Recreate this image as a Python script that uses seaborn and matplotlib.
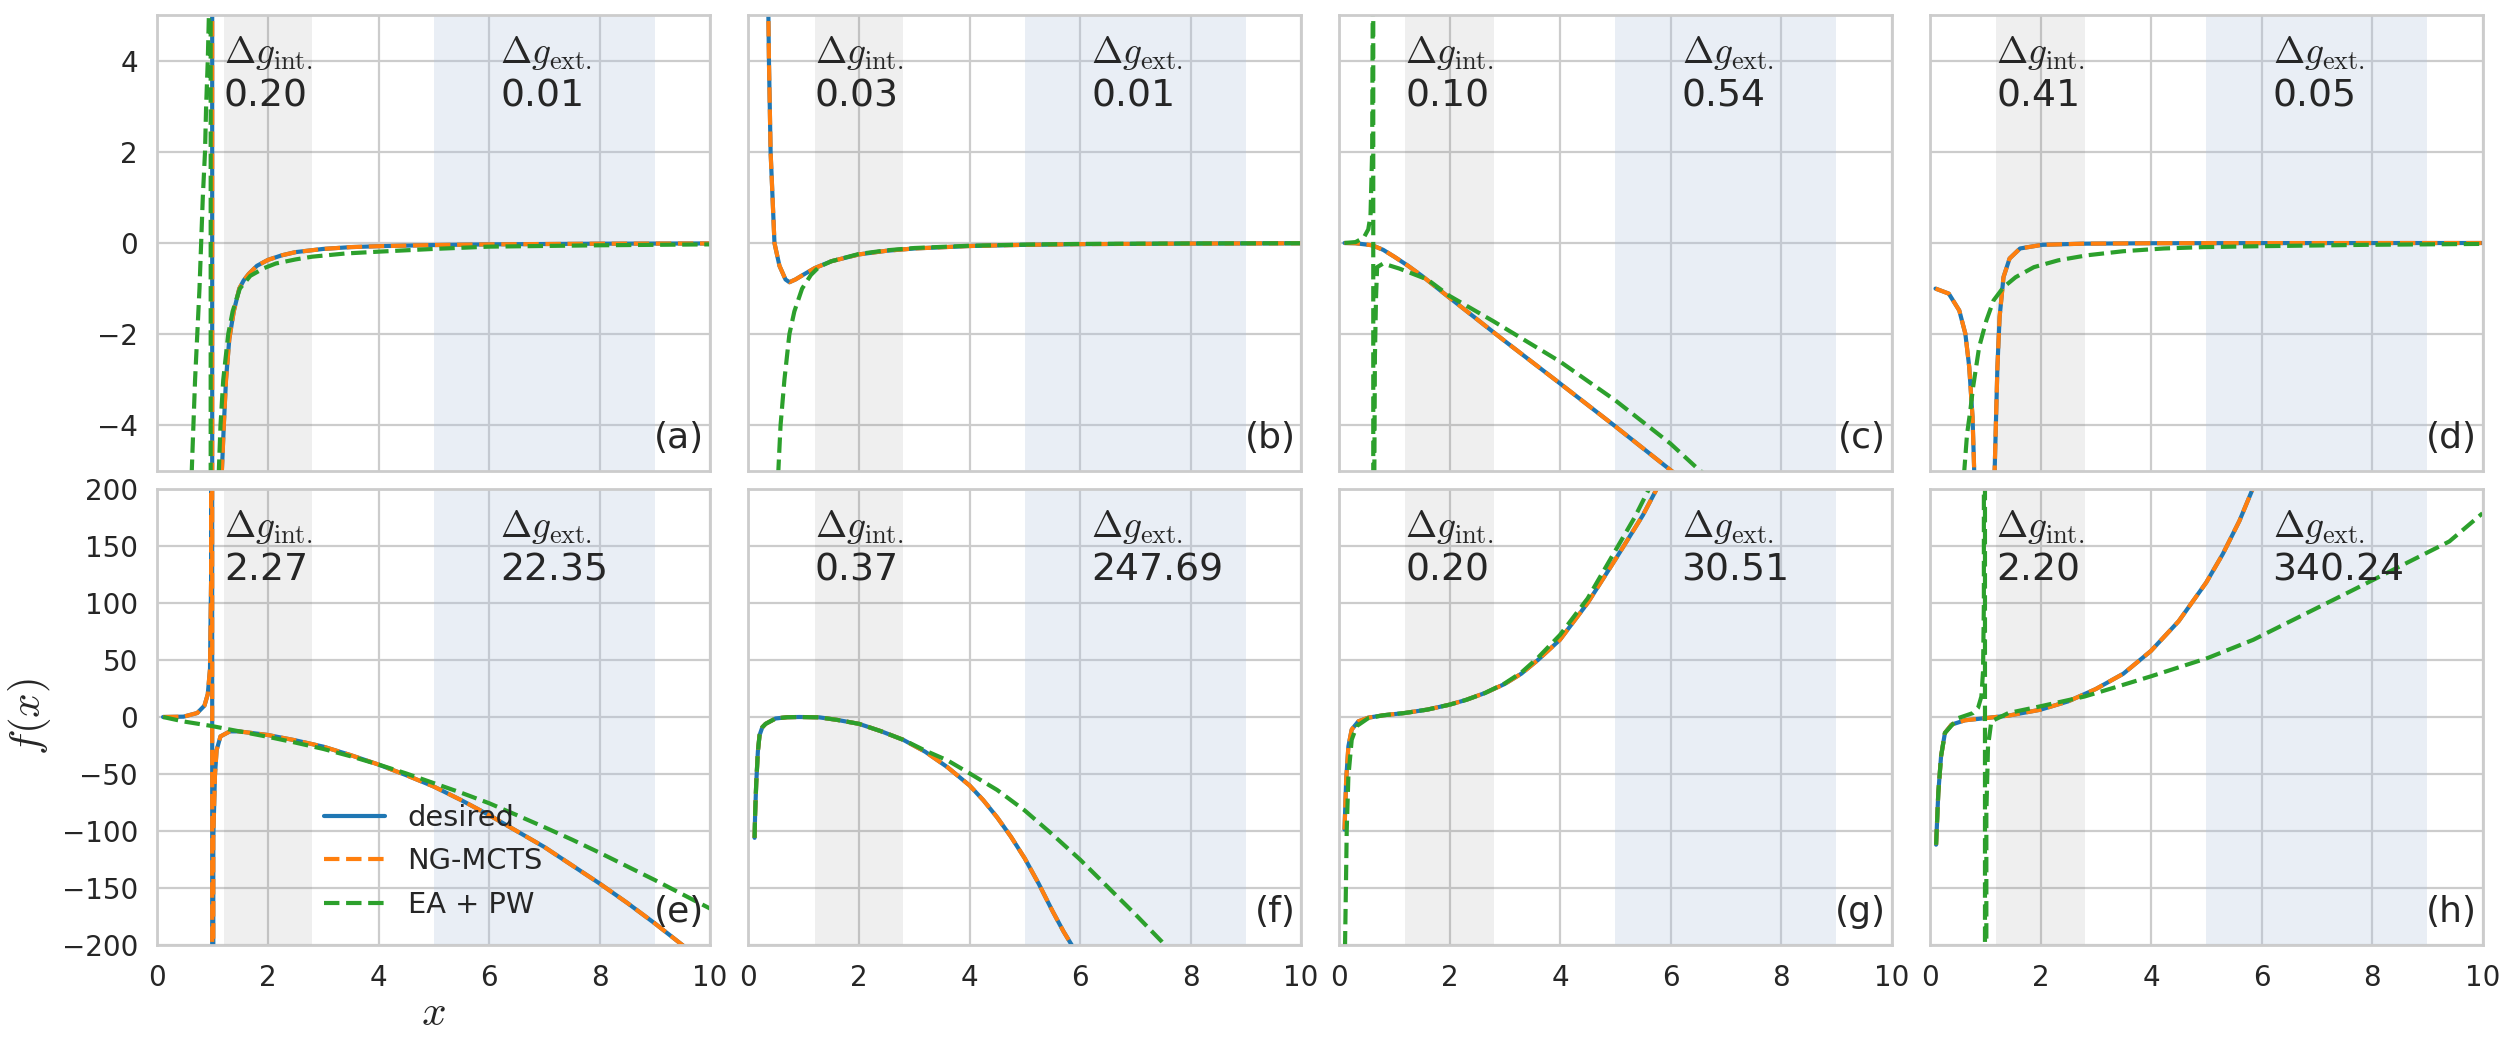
import matplotlib
matplotlib.use("Agg")
import matplotlib.pyplot as plt
import seaborn as sns

# ---------------- data ----------------
panel_labels = ["(a)", "(b)", "(c)", "(d)", "(e)", "(f)", "(g)", "(h)"]
dg_int = ["0.20", "0.03", "0.10", "0.41", "2.27", "0.37", "0.20", "2.20"]
dg_ext = ["0.01", "0.01", "0.54", "0.05", "22.35", "247.69", "30.51", "340.24"]
series_names = ["desired", "NG-MCTS", "EA + PW"]

# (a)
des_a_x = [0.1, 0.5, 0.9, 0.985, 0.995, 1.1, 1.165, 1.2, 1.24, 1.3, 1.38, 1.48, 1.56, 1.65, 1.8, 2.0, 2.25, 2.5, 3.0, 3.5, 4.0, 5.0, 6.0, 8.0, 10.0]
des_a_y = [40, 12, 60, 1e5, -1e5, -12, -5.0, -4.0, -3.0, -2.1, -1.5, -1.0, -0.82, -0.68, -0.5, -0.37, -0.27, -0.2, -0.13, -0.09, -0.07, -0.045, -0.03, -0.015, -0.01]
ea_a_x = [0.1, 0.5, 0.62, 0.65, 0.68, 0.72, 0.76, 0.79, 0.82, 0.86, 0.88, 0.91, 0.93, 0.95, 0.96, 0.965, 1.05, 1.11, 1.14, 1.19, 1.28, 1.36, 1.49, 1.68, 1.93, 2.14, 2.5, 2.8, 3.4, 4.0, 5.0, 6.0, 8.0, 10.0]
ea_a_y = [-60, -15, -5.0, -4.0, -3.0, -2.0, -1.0, 0.0, 1.0, 2.0, 3.0, 4.0, 5.0, 12, 1e5, -1e5, -12, -5.0, -4.0, -3.0, -2.0, -1.5, -1.0, -0.72, -0.55, -0.45, -0.36, -0.3, -0.23, -0.19, -0.13, -0.08, -0.05, -0.03]

# (b)
des_b_x = [0.1, 0.2, 0.3, 0.36, 0.37, 0.40, 0.47, 0.56, 0.67, 0.74, 0.85, 1.0, 1.2, 1.5, 2.0, 2.5, 3.0, 4.0, 5.0, 6.0, 8.0, 10.0]
des_b_y = [60, 25, 9, 5, 4, 2, 0, -0.5, -0.8, -0.86, -0.8, -0.69, -0.55, -0.4, -0.25, -0.17, -0.12, -0.066, -0.04, -0.025, -0.012, -0.006]
ea_b_x = [0.1, 0.4, 0.54, 0.58, 0.65, 0.74, 0.83, 0.97, 1.13, 1.28, 1.5, 2.0, 2.5, 3.0, 4.0, 5.0, 6.0, 8.0, 10.0]
ea_b_y = [-80, -15, -5.0, -4.0, -3.0, -2.0, -1.5, -1.0, -0.7, -0.52, -0.4, -0.24, -0.16, -0.11, -0.06, -0.035, -0.02, -0.01, -0.005]

# (c)
des_c_x = [0.1, 0.3, 0.6, 0.8, 1.0, 1.25, 1.5, 1.75, 2.0, 3.0, 4.0, 5.0, 6.0, 7.0, 10.0]
des_c_y = [0.0, -0.005, -0.05, -0.15, -0.3, -0.5, -0.72, -0.96, -1.2, -2.15, -3.08, -4.02, -4.98, -5.93, -8.8]
ea_c_x = [0.1, 0.3, 0.45, 0.53, 0.57, 0.6, 0.61, 0.615, 0.625, 0.64, 0.65, 0.67, 0.69, 0.8, 1.09, 1.6, 2.0, 2.8, 4.0, 5.0, 6.0, 6.52, 7.0, 10.0]
ea_c_y = [0.0, 0.02, 0.12, 0.3, 0.6, 2.0, 5.0, 1e5, -1e5, -5.0, -2.5, -1.2, -0.53, -0.45, -0.56, -0.8, -1.16, -1.72, -2.6, -3.45, -4.4, -4.98, -5.4, -8.0]

# (d)
des_d_x = [0.1, 0.34, 0.53, 0.64, 0.71, 0.77, 0.8, 0.85, 1.12, 1.17, 1.22, 1.26, 1.33, 1.44, 1.63, 2.03, 2.76, 4.0, 6.0, 10.0]
des_d_y = [-1.0, -1.11, -1.48, -1.99, -2.72, -3.82, -5.0, -12, -12, -5.0, -2.72, -1.62, -0.75, -0.34, -0.12, -0.04, -0.015, -0.005, -0.002, 0.0]
ea_d_x = [0.3, 0.62, 0.67, 0.73, 0.78, 0.89, 1.02, 1.15, 1.33, 1.55, 1.88, 2.32, 2.84, 3.5, 4.23, 4.96, 5.99, 7.9, 10.0]
ea_d_y = [-20, -5.0, -4.2, -3.67, -3.16, -2.28, -1.7, -1.26, -0.97, -0.75, -0.53, -0.38, -0.27, -0.18, -0.12, -0.09, -0.07, -0.04, -0.02]

# (e)
des_e_x = [0.1, 0.47, 0.72, 0.85, 0.91, 0.95, 0.97, 0.985, 0.995, 1.01, 1.04, 1.07, 1.14, 1.31, 1.47, 2.0, 2.5, 3.0, 3.5, 4.0, 4.5, 5.0, 5.5, 6.0, 6.5, 7.0, 7.5, 8.0, 8.5, 9.0, 9.5, 10.0]
des_e_y = [0.0, 0.3, 3.5, 10, 20, 42, 120, 1e6, -1e6, -106, -51, -29, -17, -12.6, -12.6, -15.8, -20.5, -26, -33.5, -41.7, -51, -61, -73, -86, -100, -114, -130, -146, -163, -181, -200, -220]
ea_e_x = [0.1, 0.47, 0.97, 1.31, 2.0, 2.5, 3.0, 3.5, 4.0, 4.5, 5.0, 5.5, 6.0, 6.5, 7.0, 7.5, 8.0, 8.5, 9.0, 9.5, 10.0]
ea_e_y = [0.0, -3.9, -7.8, -11, -17.4, -22.5, -28, -34.5, -41.7, -49.5, -58, -66.5, -75.6, -86, -96.6, -107.5, -119, -131, -143, -155.5, -168]

# (f)
des_f_x = [0.11, 0.12, 0.14, 0.17, 0.2, 0.25, 0.31, 0.49, 0.7, 0.92, 1.28, 1.6, 2.0, 2.4, 2.8, 3.2, 3.6, 4.0, 4.25, 4.5, 4.75, 5.0, 5.25, 5.5, 5.7, 5.85, 6.0]
des_f_y = [-106, -85, -58, -30, -16, -9, -6, -1.3, -0.2, 0.0, -0.3, -2.5, -6, -12.5, -20, -30.5, -44, -60, -73, -88, -105, -124, -146, -170, -188, -200, -215]
ea_f_x = [0.11, 0.12, 0.14, 0.17, 0.2, 0.25, 0.31, 0.49, 0.7, 0.92, 1.28, 1.6, 2.0, 2.4, 2.8, 3.2, 3.6, 4.0, 4.5, 5.0, 5.5, 6.0, 6.5, 7.0, 7.48, 7.8]
ea_f_y = [-106, -85, -58, -30, -16, -9, -6, -1.3, -0.2, 0.0, -0.3, -2.5, -6, -12.5, -20, -29.5, -38, -49.4, -64, -82, -103, -125, -149, -173, -197, -215]

# (g)
des_g_x = [0.1, 0.13, 0.17, 0.23, 0.35, 0.53, 0.8, 1.19, 1.6, 2.0, 2.3, 2.64, 3.0, 3.3, 3.6, 4.0, 4.5, 5.0, 5.5, 5.75, 6.0]
des_g_y = [-98.8, -55, -25.7, -11, -3.8, -0.6, 1.5, 3.5, 6.5, 10.8, 15, 21, 29, 38, 50, 67.8, 100, 138, 177, 200, 222]
ea_g_x = [0.1, 0.11, 0.127, 0.14, 0.17, 0.23, 0.32, 0.53, 0.8, 1.19, 1.6, 2.0, 2.3, 2.64, 3.0, 3.3, 3.6, 4.0, 4.5, 5.05, 5.35, 5.6, 5.8]
ea_g_y = [-240, -198, -143, -99, -52, -20, -8, -1.0, 1.5, 3.5, 6.5, 10.8, 15, 21, 29.5, 39, 52, 72, 104, 150, 175, 199, 215]

# (h)
des_h_x = [0.11, 0.15, 0.2, 0.27, 0.39, 0.63, 0.96, 1.42, 2.0, 2.5, 3.0, 3.5, 4.0, 4.5, 5.0, 5.3, 5.6, 5.84, 6.0]
des_h_y = [-112, -66.7, -34.5, -14, -6.7, -2.9, -1.2, 1.2, 6.4, 13.7, 24.5, 38, 58, 84, 118, 143, 172, 200, 220]
ea_h_x = [0.11, 0.15, 0.2, 0.27, 0.51, 0.78, 0.87, 0.93, 0.96, 0.975, 0.99, 1.0, 1.02, 1.05, 1.11, 1.42, 2.0, 2.8, 3.28, 4.0, 5.03, 5.85, 6.69, 7.6, 8.5, 9.4, 10.0]
ea_h_y = [-112, -66.7, -34.5, -14, -1.0, 3.5, 8, 18, 40, 100, 1e5, -1e5, -84, -25.7, -3.8, 3.5, 9.4, 18, 25, 35.7, 51.8, 67.7, 88, 110, 132, 154, 178.7]

# NG-MCTS coincides with the desired curve in every panel
ng_a_x, ng_a_y = des_a_x, des_a_y
ng_b_x, ng_b_y = des_b_x, des_b_y
ng_c_x, ng_c_y = des_c_x, des_c_y
ng_d_x, ng_d_y = des_d_x, des_d_y
ng_e_x, ng_e_y = des_e_x, des_e_y
ng_f_x, ng_f_y = des_f_x, des_f_y
ng_g_x, ng_g_y = des_g_x, des_g_y
ng_h_x, ng_h_y = des_h_x, des_h_y

curves = [
    [(des_a_x, des_a_y), (ng_a_x, ng_a_y), (ea_a_x, ea_a_y)],
    [(des_b_x, des_b_y), (ng_b_x, ng_b_y), (ea_b_x, ea_b_y)],
    [(des_c_x, des_c_y), (ng_c_x, ng_c_y), (ea_c_x, ea_c_y)],
    [(des_d_x, des_d_y), (ng_d_x, ng_d_y), (ea_d_x, ea_d_y)],
    [(des_e_x, des_e_y), (ng_e_x, ng_e_y), (ea_e_x, ea_e_y)],
    [(des_f_x, des_f_y), (ng_f_x, ng_f_y), (ea_f_x, ea_f_y)],
    [(des_g_x, des_g_y), (ng_g_x, ng_g_y), (ea_g_x, ea_g_y)],
    [(des_h_x, des_h_y), (ng_h_x, ng_h_y), (ea_h_x, ea_h_y)],
]

x_ticks = [0, 2, 4, 6, 8, 10]
top_y_ticks = [-4, -2, 0, 2, 4]
bottom_y_ticks = [-200, -150, -100, -50, 0, 50, 100, 150, 200]
int_band = (1.2, 2.8)
ext_band = (5.0, 9.0)

# ---------------- style ----------------
sns.set_style("whitegrid")
plt.rcParams["font.family"] = ["DejaVu Sans"]
plt.rcParams["mathtext.fontset"] = "cm"
plt.rcParams["axes.unicode_minus"] = True

colors = ["#1f77b4", "#ff7f0e", "#2ca02c"]
styles = ["-", "--", "--"]
text_col = "#262626"

W, H, DPI = 2516, 1048, 200
fig = plt.figure(figsize=(W / DPI, H / DPI), dpi=DPI)

lefts = [157.5, 748.5, 1339.0, 1930.0]
axw = 552.5
row_tops = [15.0, 489.0]
axh = 456.0

axes = []
for i in range(8):
    r, c = divmod(i, 4)
    ax = fig.add_axes([lefts[c] / W, 1 - (row_tops[r] + axh) / H, axw / W, axh / H])
    axes.append(ax)
    ax.axvspan(*int_band, color="gray", alpha=0.12, lw=0, zorder=1)
    ax.axvspan(*ext_band, color="#b0c4de", alpha=0.28, lw=0, zorder=1)
    for k, (xs, ys) in enumerate(curves[i]):
        sns.lineplot(x=xs, y=ys, ax=ax, color=colors[k], linestyle=styles[k],
                     lw=1.5, sort=False, estimator=None, legend=False,
                     label=series_names[k], zorder=2 + k * 0.1)
    ax.set_xlim(0, 10)
    ax.set_xticks(x_ticks)
    if r == 0:
        ax.set_ylim(-5, 5)
        ax.set_yticks(top_y_ticks)
        ax.tick_params(labelbottom=False)
    else:
        ax.set_ylim(-200, 200)
        ax.set_yticks(bottom_y_ticks)
    if c != 0:
        ax.tick_params(labelleft=False)
    ax.tick_params(labelsize=10, colors=text_col, pad=3.5)
    ax.set_xlabel("")
    ax.set_ylabel("")
    for s in ax.spines.values():
        s.set_color("#cccccc")
        s.set_linewidth(1.0)
    ax.grid(True, color="#cccccc", lw=0.8)

    tr = ax.get_xaxis_transform()
    ax.text(1.2, 0.895, r"$\Delta g_{\mathrm{int.}}$", transform=tr,
            fontsize=13.5, color=text_col, ha="left", va="baseline")
    ax.text(1.2, 0.80, dg_int[i], transform=tr,
            fontsize=13.6, color=text_col, ha="left", va="baseline")
    ax.text(6.2, 0.895, r"$\Delta g_{\mathrm{ext.}}$", transform=tr,
            fontsize=13.5, color=text_col, ha="left", va="baseline")
    ax.text(6.2, 0.80, dg_ext[i], transform=tr,
            fontsize=13.6, color=text_col, ha="left", va="baseline")
    ax.text(0.99, 0.035, panel_labels[i], transform=ax.transAxes,
            fontsize=13, color=text_col, ha="right", va="bottom")
    if ax.get_legend() is not None:
        ax.get_legend().remove()

ax_e = axes[4]
ax_e.set_ylabel(r"$f(x)$", fontsize=15.5, color=text_col, labelpad=3.2)
ax_e.set_xlabel(r"$x$", fontsize=15.5, color=text_col, labelpad=0)
ax_e.legend(loc="lower left", bbox_to_anchor=(0.254, 0.0), frameon=False,
            fontsize=10.4, labelspacing=0.54, handlelength=2.1, labelcolor=text_col)

fig.savefig("out.png", dpi=DPI)
